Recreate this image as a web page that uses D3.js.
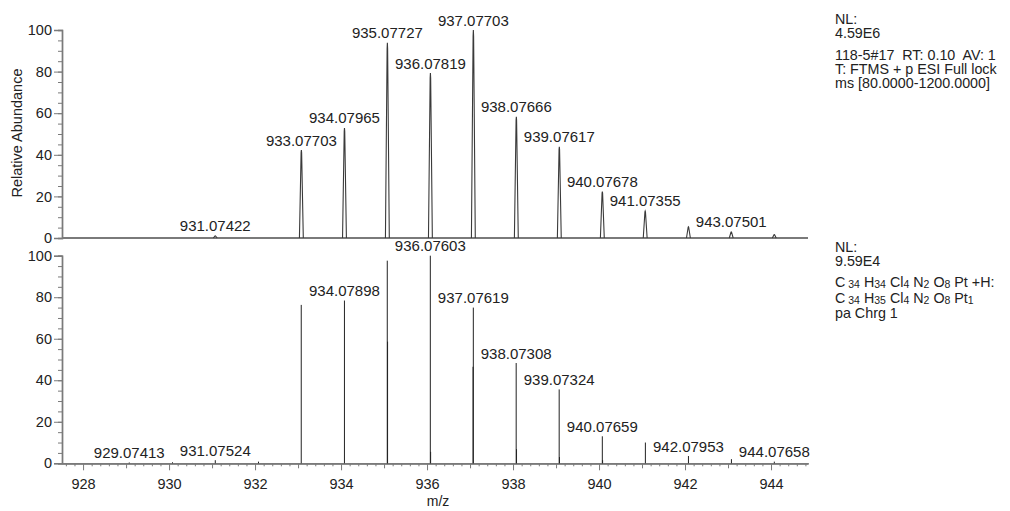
<!DOCTYPE html>
<html><head><meta charset="utf-8">
<script src="https://cdn.jsdelivr.net/npm/d3@7/dist/d3.min.js"></script>
<style>
html,body{margin:0;padding:0;background:#fff;}
svg{display:block;font-family:"Liberation Sans",Arial,sans-serif;}
</style></head>
<body>
<svg id="c" width="1010" height="511"></svg>
<script>
// ---- data ----
const topMz  = [931.07422, 933.07703, 934.07965, 935.07727, 936.07819, 937.07703, 938.07666, 939.07617, 940.07678, 941.07355, 942.0790, 943.07501, 944.0760];
const topInt = [1.0, 42.3, 52.9, 93.8, 79.3, 100, 58.3, 43.9, 22.3, 13.0, 5.4, 2.9, 1.6];
const topLabels = ["931.07422","933.07703","934.07965","935.07727","936.07819","937.07703","938.07666","939.07617","940.07678","941.07355","","943.07501",""];

const botMz  = [929.07413, 930.0800, 931.07524, 932.0800, 933.0740, 934.07898, 935.0750, 935.0820, 936.07603, 936.0830, 937.07619, 937.0700, 938.07308, 938.0810, 939.07324, 939.0800, 940.07659, 940.0830, 941.0780, 942.07953, 943.0790, 944.07658];
const botInt = [0.4, 0.5, 1.5, 0.8, 76.3, 78.4, 97.6, 58.6, 100, 5.5, 75.0, 46.5, 48.3, 6.8, 35.6, 3.0, 13.0, 1.5, 10.0, 3.5, 2.0, 0.8];
const botLabels = ["929.07413","","931.07524","","","934.07898","","","936.07603","","937.07619","","938.07308","","939.07324","","940.07659","","","942.07953","","944.07658"];

const yTicks = [0, 20, 40, 60, 80, 100];
const xTicks = [928, 930, 932, 934, 936, 938, 940, 942, 944];
const xDomain = [927.51, 944.86];

const topInfo = ["NL:", "4.59E6", "118-5#17  RT: 0.10  AV: 1", "T: FTMS + p ESI Full lock", "ms [80.0000-1200.0000]"];
const botInfoA = ["NL:", "9.59E4"];
const formula1 = [["C",0],[" 34",1],[" H",0],["34",1],[" Cl",0],["4",1],[" N",0],["2",1],[" O",0],["8",1],[" Pt +H:",0]];
const formula2 = [["C",0],[" 34",1],[" H",0],["35",1],[" Cl",0],["4",1],[" N",0],["2",1],[" O",0],["8",1],[" Pt",0],["1",1]];
const botInfoB = ["pa Chrg 1"];

// ---- layout ----
const svg = d3.select("#c");
const axisColor = "#7a7a7a";
const textColor = "#222";
const x = d3.scaleLinear().domain(xDomain).range([62, 808]);
const yTop = d3.scaleLinear().domain([0, 100]).range([238, 30]);
const yBot = d3.scaleLinear().domain([0, 100]).range([463.3, 255.7]);

function yAxis(scale) {
  const g = svg.append("g").attr("transform", "translate(62,0)");
  g.call(d3.axisLeft(scale).tickValues(d3.range(0, 101, 5)).tickSize(4).tickFormat(""));
  const g2 = svg.append("g").attr("transform", "translate(62,0)");
  g2.call(d3.axisLeft(scale).tickValues(yTicks).tickSize(8).tickPadding(2));
  [g, g2].forEach(a => {
    a.select(".domain").attr("stroke", axisColor).attr("stroke-width", 1.4);
    a.selectAll(".tick line").attr("stroke", axisColor);
  });
  g2.selectAll(".tick text").attr("fill", textColor).style("font-size", "14.5px")
    .style("font-family", '"Liberation Sans",Arial,sans-serif');
  return g2;
}
yAxis(yTop);
yAxis(yBot);

// top baseline
svg.append("line").attr("x1", 62).attr("x2", 808).attr("y1", yTop(0)).attr("y2", yTop(0))
  .attr("stroke", axisColor).attr("stroke-width", 2);

// bottom x axis
function xAxisLayer(vals, size, fmt) {
  const g = svg.append("g").attr("transform", `translate(0,${yBot(0)})`);
  const ax = d3.axisBottom(x).tickValues(vals).tickSize(size).tickSizeOuter(0);
  if (!fmt) ax.tickFormat("");
  g.call(ax);
  g.select(".domain").attr("stroke", axisColor).attr("stroke-width", 1.6);
  g.selectAll(".tick line").attr("stroke", axisColor);
  g.selectAll(".tick text").attr("fill", textColor).style("font-size", "14.5px")
    .style("font-family", '"Liberation Sans",Arial,sans-serif').attr("dy", "1.05em");
  return g;
}
const minorVals = d3.range(927.6, 944.81, 0.2).map(v => +v.toFixed(1)).filter(v => Math.abs(v - Math.round(v)) > 0.01);
xAxisLayer(minorVals, 3, false);
xAxisLayer(d3.range(929, 945, 2), 5, false);
xAxisLayer(xTicks, 7, true);

// axis titles
svg.append("text").attr("x", 438).attr("y", 506).attr("text-anchor", "middle")
  .attr("fill", textColor).style("font-size", "14px").text("m/z");
svg.append("text").attr("transform", "translate(22,133) rotate(-90)").attr("text-anchor", "middle")
  .attr("fill", textColor).style("font-size", "14.5px").text("Relative Abundance");

// ---- top profile peaks ----
const halfW = 0.045;
const line = d3.line().x(d => x(d[0])).y(d => yTop(d[1]));
const topData = topMz.map((m, i) => ({m, h: topInt[i], lab: topLabels[i]}));
svg.append("g").selectAll("path").data(topData).join("path")
  .attr("d", d => line([[d.m - halfW, 0], [d.m - 0.006, d.h * 0.97], [d.m, d.h], [d.m + 0.006, d.h * 0.97], [d.m + halfW, 0]]))
  .attr("fill", "none").attr("stroke", "#3a3a3a").attr("stroke-width", 1.1);
svg.append("g").selectAll("text").data(topData.filter(d => d.lab)).join("text")
  .attr("x", d => x(d.m)).attr("y", d => yTop(d.h) - 4.5).attr("text-anchor", "middle")
  .attr("fill", textColor).style("font-size", "15px").text(d => d.lab);

// ---- bottom sticks ----
const botData = botMz.map((m, i) => ({m, h: botInt[i], lab: botLabels[i]}));
svg.append("g").selectAll("line").data(botData).join("line")
  .attr("x1", d => x(d.m)).attr("x2", d => x(d.m))
  .attr("y1", yBot(0)).attr("y2", d => yBot(d.h))
  .attr("stroke", "#222").attr("stroke-width", 1);
svg.append("g").selectAll("text").data(botData.filter(d => d.lab)).join("text")
  .attr("x", d => x(d.m)).attr("y", d => yBot(d.h) - 4.5).attr("text-anchor", "middle")
  .attr("fill", textColor).style("font-size", "15px").text(d => d.lab);

// ---- info text ----
const infoX = 835;
const infoSize = "14.3px";
const topY = [24, 38, 60, 74, 88];
topInfo.forEach((t, i) => {
  svg.append("text").attr("x", infoX).attr("y", topY[i]).attr("fill", textColor)
    .style("font-size", infoSize).style("white-space", "pre").attr("xml:space", "preserve").text(t);
});
const botY = [252, 266, 287, 303, 317.5];
botInfoA.forEach((t, i) => {
  svg.append("text").attr("x", infoX).attr("y", botY[i]).attr("fill", textColor)
    .style("font-size", infoSize).text(t);
});
function formula(parts, yy) {
  const t = svg.append("text").attr("x", infoX).attr("y", yy).attr("fill", textColor)
    .style("font-size", infoSize).attr("xml:space", "preserve").style("white-space", "pre");
  let sub = false;
  parts.forEach(([s, isSub]) => {
    const ts = t.append("tspan").text(s);
    if (isSub && !sub) { ts.attr("dy", 1).style("font-size", "10.5px"); sub = true; }
    else if (!isSub && sub) { ts.attr("dy", -1); sub = false; }
    else if (isSub) ts.style("font-size", "10.5px");
  });
}
formula(formula1, botY[2]);
formula(formula2, botY[3]);
botInfoB.forEach((t, i) => {
  svg.append("text").attr("x", infoX).attr("y", botY[4 + i]).attr("fill", textColor)
    .style("font-size", infoSize).text(t);
});
</script>
</body></html>
